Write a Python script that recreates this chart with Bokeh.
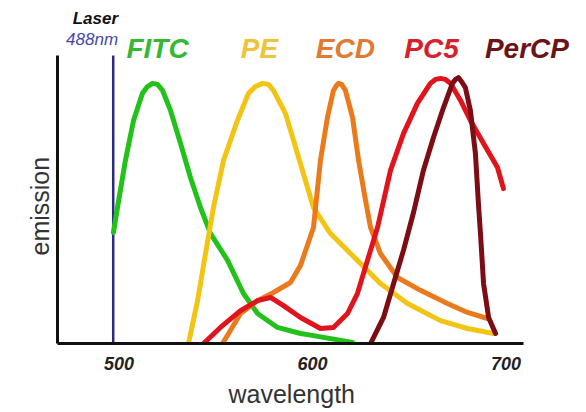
from bokeh.plotting import figure
from bokeh.models import FixedTicker, Range1d, Title
from bokeh.core.properties import value
from bokeh.embed import file_html
from bokeh.resources import INLINE

# ---- data ----
fitc_x = [497.1, 499.2, 503.3, 507.5, 512.1, 514.7, 517.3, 519.9, 522.5, 526.6, 531.8,
          536.9, 542.1, 547.3, 556.1, 564.3, 571.6, 581.9, 593.8, 600.5, 620.7]
fitc_y = [0.422, 0.517, 0.696, 0.848, 0.951, 0.977, 0.989, 0.985, 0.962, 0.886, 0.760,
          0.631, 0.517, 0.418, 0.316, 0.190, 0.114, 0.061, 0.038, 0.030, 0.004]

pe_x = [535.9, 540.6, 544.7, 548.8, 554.0, 561.2, 566.9, 570.5, 574.1, 577.2, 579.8,
        586.0, 592.2, 600.5, 609.3, 623.2, 635.1, 649.1, 666.1, 680.1, 693.5]
pe_y = [0.0, 0.163, 0.342, 0.517, 0.696, 0.848, 0.951, 0.977, 0.989, 0.985, 0.962,
        0.875, 0.722, 0.517, 0.418, 0.316, 0.228, 0.152, 0.087, 0.057, 0.038]

ecd_x = [553.5, 562.8, 571.6, 579.8, 588.6, 593.8, 600.5, 604.1, 607.7, 610.8, 612.4,
         613.4, 615.0, 617.0, 620.7, 623.8, 627.4, 630.0, 635.1, 643.9, 655.8, 669.7,
         680.1, 690.4]
ecd_y = [0.0, 0.114, 0.163, 0.194, 0.232, 0.297, 0.441, 0.696, 0.859, 0.962, 0.981,
         0.989, 0.985, 0.962, 0.859, 0.696, 0.544, 0.441, 0.342, 0.251, 0.202, 0.152,
         0.118, 0.095]

pc5_x = [543.7, 552.4, 562.8, 571.6, 578.3, 585.0, 593.8, 604.1, 610.8, 618.1, 623.2,
         628.4, 633.6, 640.3, 647.0, 654.2, 660.9, 663.5, 666.1, 668.7, 671.3, 676.5,
         681.6, 688.4, 695.6, 698.7]
pc5_y = [0.0, 0.061, 0.125, 0.163, 0.175, 0.144, 0.099, 0.057, 0.061, 0.114, 0.190,
         0.316, 0.441, 0.658, 0.798, 0.913, 0.989, 1.004, 1.008, 1.004, 0.989, 0.924,
         0.848, 0.760, 0.669, 0.589]

percp_x = [630.0, 636.7, 641.9, 647.0, 652.2, 657.3, 662.5, 667.7, 672.3, 673.9, 675.4,
           677.0, 679.0, 681.6, 684.2, 685.8, 686.8, 688.4, 691.0, 694.6]
percp_y = [0.0, 0.099, 0.228, 0.354, 0.498, 0.658, 0.783, 0.897, 0.989, 1.004, 1.011,
           0.996, 0.973, 0.886, 0.722, 0.525, 0.418, 0.228, 0.099, 0.038]

laser_nm = [497.0]
x_ticks = [500, 600, 700]
dye_names = ["FITC", "PE", "ECD", "PC5", "PerCP"]
dye_label_x = [519.9, 572.6, 617.0, 661.5, 710.8]

# ---- styles / layout ----
line_colors = ["#22c21a", "#f2c414", "#ea7a1c", "#e0141c", "#7d0d14"]
text_colors = ["#36b836", "#f0c43a", "#e27a34", "#d8202c", "#6a1418"]
FONT = "Liberation Sans"
X_AXIS = (468.2, 709.0)    # extent of the drawn x axis
Y_AXIS = (0.0, 1.095)      # extent of the drawn y axis
X_END = 741.6              # frame reaches the right edge (room for labels)
Y_END = 1.304              # frame reaches the top edge (room for labels)

p = figure(width=586, height=412, output_backend="svg", toolbar_location=None,
           x_range=Range1d(X_AXIS[0], X_END), y_range=Range1d(0, Y_END),
           min_border_left=57, min_border_right=0, min_border_top=0,
           min_border_bottom=69)
p.outline_line_color = None
p.grid.visible = False

xa = p.xaxis[0]
xa.bounds = X_AXIS
xa.ticker = FixedTicker(ticks=x_ticks)
xa.major_tick_line_color = None
xa.minor_tick_line_color = None
xa.major_tick_out = 0
xa.axis_line_width = 3
xa.axis_line_color = "#111111"
xa.major_label_text_font = FONT
xa.major_label_text_font_style = "bold italic"
xa.major_label_text_font_size = "18px"
xa.major_label_text_color = "#222222"
xa.major_label_standoff = 13

ya = p.yaxis[0]
ya.bounds = Y_AXIS
ya.ticker = FixedTicker(ticks=[])
ya.major_tick_line_color = None
ya.minor_tick_line_color = None
ya.major_tick_out = 0
ya.major_label_standoff = 0
ya.axis_line_width = 3
ya.axis_line_color = "#111111"

# axis titles, placed along the drawn axes (the frame is wider/taller than them)
p.add_layout(Title(text="wavelength", align="left", offset=171, standoff=10,
                   text_font=FONT, text_font_style="normal", text_font_size="25px",
                   text_color="#333333"), "below")
p.add_layout(Title(text="emission", align="left", offset=88, standoff=8,
                   text_font=FONT, text_font_style="normal", text_font_size="25px",
                   text_color="#333333"), "left")

# laser excitation line, up to the top of the y axis
p.segment(x0=laser_nm, y0=[Y_AXIS[0]], x1=laser_nm, y1=[Y_AXIS[1]],
          line_color="#2b2a85", line_width=2.5)

series = [(fitc_x, fitc_y), (pe_x, pe_y), (ecd_x, ecd_y), (pc5_x, pc5_y), (percp_x, percp_y)]
for (xs, ys), c in zip(series, line_colors):
    p.line(xs, ys, line_color=c, line_width=5, line_join="round", line_cap="round")

# labels above the curves
p.text(x=dye_label_x, y=[1.122] * len(dye_names), text=dye_names,
       text_color=text_colors, text_align="center", text_baseline="alphabetic",
       text_font=value(FONT), text_font_style="bold italic", text_font_size="28px")
p.text(x=[499.5], y=[1.236], text=["Laser"], text_color="#111111", text_align="right",
       text_baseline="alphabetic", text_font=value(FONT),
       text_font_style="bold italic", text_font_size="17px")
p.text(x=[499.5], y=[1.156], text=["488nm"], text_color="#4848a8", text_align="right",
       text_baseline="alphabetic", text_font=value(FONT),
       text_font_style="italic", text_font_size="17px")

open("out.html", "w").write(file_html(p, INLINE))
